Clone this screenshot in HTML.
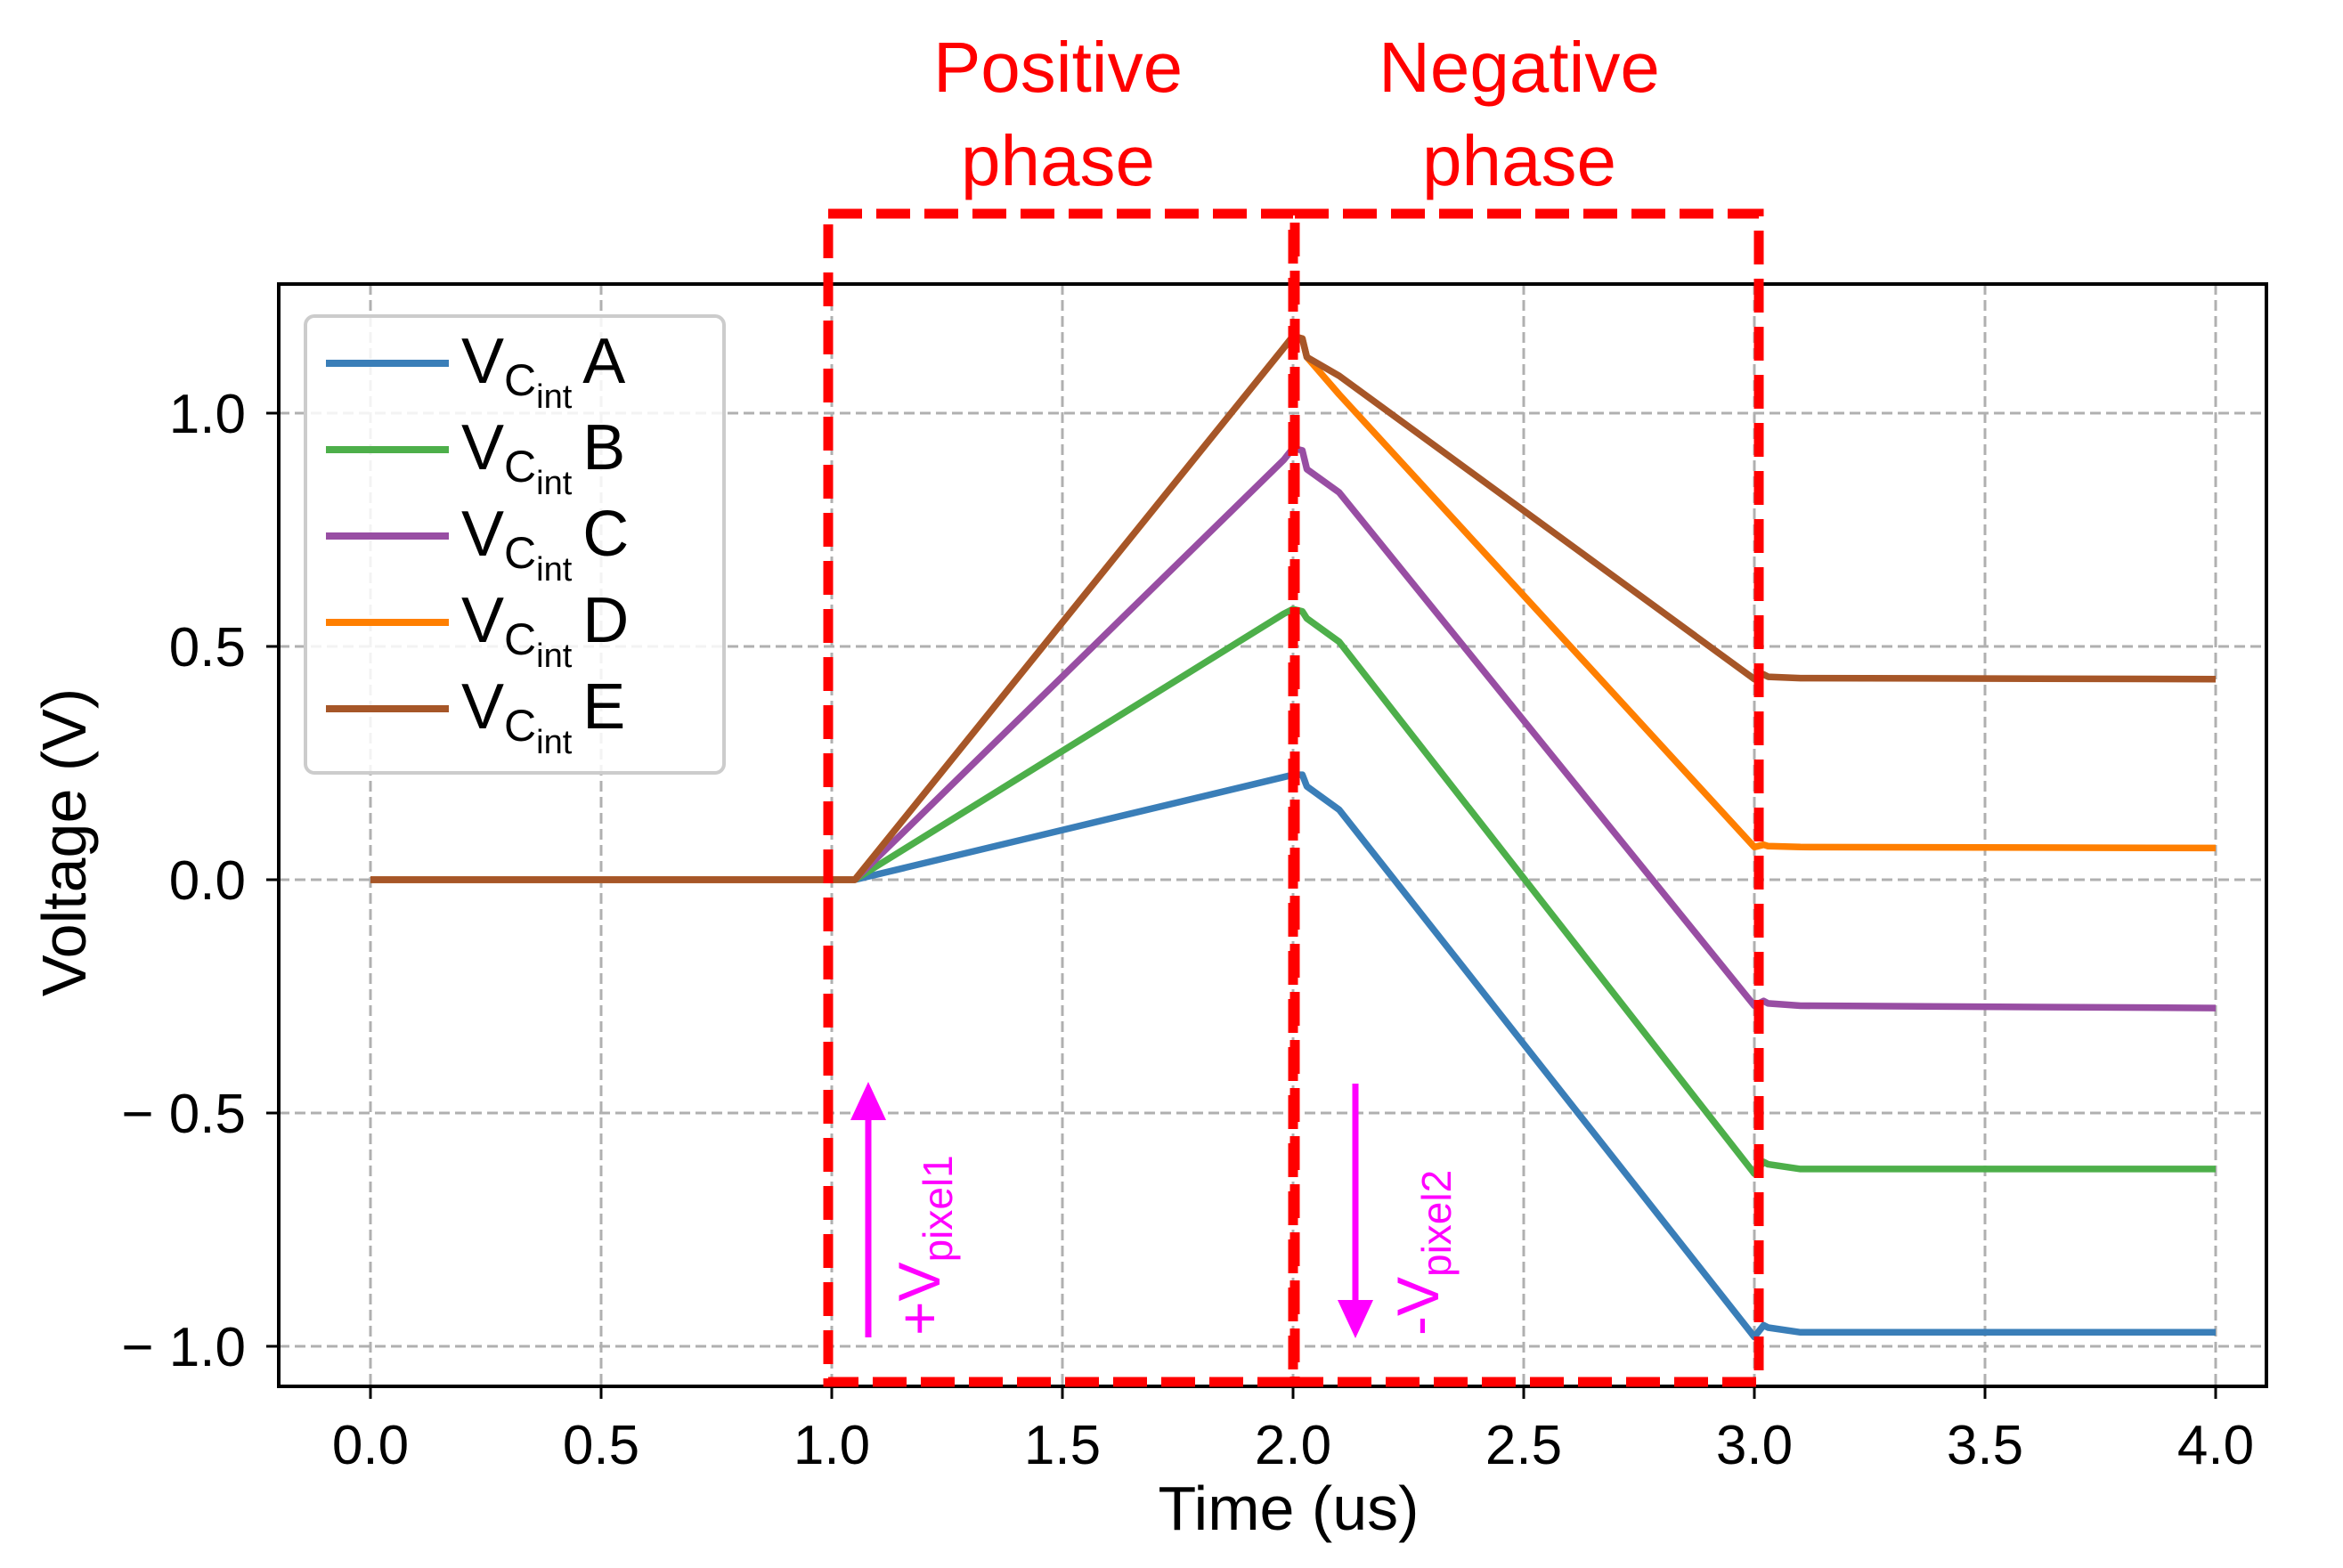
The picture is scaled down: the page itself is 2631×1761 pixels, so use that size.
<!DOCTYPE html>
<html><head><meta charset="utf-8"><style>
html,body{margin:0;padding:0;background:#fff;}
svg{display:block;font-family:"Liberation Sans",Arial,sans-serif;}
</style></head><body>
<svg id="chart" width="2631" height="1761" viewBox="0 0 2631 1761" xmlns="http://www.w3.org/2000/svg">
<rect x="0" y="0" width="2631" height="1761" fill="#fff"/>
<g id="grid"></g>
<g id="series"></g>
<g id="axes"></g>
<g id="annot">
  <text x="1188" y="103" font-size="80" fill="#ff0000" text-anchor="middle">Positive</text>
  <text x="1188" y="208" font-size="80" fill="#ff0000" text-anchor="middle">phase</text>
  <text x="1706" y="103" font-size="80" fill="#ff0000" text-anchor="middle">Negative</text>
  <text x="1706" y="208" font-size="80" fill="#ff0000" text-anchor="middle">phase</text>
  <rect x="930" y="240" width="522" height="1312" fill="none" stroke="#ff0000" stroke-width="11" stroke-dasharray="38 16"/>
  <rect x="1454" y="240" width="521" height="1312" fill="none" stroke="#ff0000" stroke-width="11" stroke-dasharray="38 16"/>
  <line x1="975" y1="1502" x2="975" y2="1250" stroke="#ff00ff" stroke-width="7"/>
  <polygon points="955,1258 995,1258 975,1215" fill="#ff00ff"/>
  <text transform="translate(1055,1500) rotate(-90)" font-size="66" fill="#ff00ff">+V<tspan font-size="46" dy="14">pixel1</tspan></text>
  <line x1="1522" y1="1217" x2="1522" y2="1465" stroke="#ff00ff" stroke-width="7"/>
  <polygon points="1502,1460 1542,1460 1522,1503" fill="#ff00ff"/>
  <text transform="translate(1615,1500) rotate(-90)" font-size="66" fill="#ff00ff">-V<tspan font-size="46" dy="14">pixel2</tspan></text>
</g>
<g id="legend"></g>
</svg>
<script>
const categories = [0, 0.8, 1.0, 1.05, 1.98, 2.0, 2.02, 2.03, 2.1, 3.0, 3.02, 3.03, 3.1, 4.0];
const seriesNames = ["A","B","C","D","E"];
const seriesA = [0,0,0,0,0.22,0.225,0.225,0.20,0.15,-0.98,-0.955,-0.96,-0.97,-0.97];
const seriesB = [0,0,0,0,0.57,0.58,0.575,0.56,0.51,-0.63,-0.605,-0.61,-0.62,-0.62];
const seriesC = [0,0,0,0,0.90,0.925,0.92,0.88,0.83,-0.27,-0.26,-0.265,-0.27,-0.275];
const seriesD = [0,0,0,0,1.14,1.165,1.16,1.12,1.04,0.07,0.075,0.072,0.07,0.068];
const seriesE = [0,0,0,0,1.14,1.165,1.16,1.12,1.08,0.43,0.44,0.435,0.432,0.43];
const colors = ["#3a7eb8","#4daf4a","#984ea3","#ff7f00","#a65628"];
const xTicks = [0,0.5,1.0,1.5,2.0,2.5,3.0,3.5,4.0];
const xTickLabels = ["0.0","0.5","1.0","1.5","2.0","2.5","3.0","3.5","4.0"];
const yTicks = [1.0,0.5,0,-0.5,-1.0];
const yTickLabels = ["1.0","0.5","0.0","\u2212 0.5","\u2212 1.0"];

const NS="http://www.w3.org/2000/svg";
const X0=313,X1=2545,Y0=319,Y1=1557;
function sx(v){return 416+v*518;}
function sy(v){return 988-v*524;}
function mk(tag,attrs,parent){const e=document.createElementNS(NS,tag);for(const k in attrs)e.setAttribute(k,attrs[k]);parent.appendChild(e);return e;}

const grid=document.getElementById('grid');
xTicks.forEach(function(t){
  const l=mk('line',{x1:sx(t),x2:sx(t),y1:Y0,y2:Y1,stroke:'#b0b0b0','stroke-width':3,'stroke-dasharray':'12 6'},grid);
  
  
});
yTicks.forEach(function(t){
  const l=mk('line',{x1:X0,x2:X1,y1:sy(t),y2:sy(t),stroke:'#b0b0b0','stroke-width':3,'stroke-dasharray':'12 6'},grid);
  
  
});

const series=document.getElementById('series');
const allSeries=[seriesA,seriesB,seriesC,seriesD,seriesE];
allSeries.forEach(function(vals,i){
  const pts=categories.map(function(c,j){return sx(c).toFixed(1)+','+sy(vals[j]).toFixed(1);}).join(' ');
  const p=mk('polyline',{points:pts,fill:'none',stroke:colors[i],'stroke-width':7.5,'stroke-linejoin':'round'},series);
  
  
});

const axes=document.getElementById('axes');
const fr=mk('rect',{x:X0,y:Y0,width:X1-X0,height:Y1-Y0,fill:'none',stroke:'#000','stroke-width':4},axes);


xTicks.forEach(function(t,i){
  mk('line',{x1:sx(t),x2:sx(t),y1:Y1,y2:Y1+14,stroke:'#000','stroke-width':3},axes);
  const tx=mk('text',{x:sx(t),y:1644,'font-size':62,'text-anchor':'middle',fill:'#000'},axes);
  tx.textContent=xTickLabels[i];
  
  
});
yTicks.forEach(function(t,i){
  mk('line',{x1:X0-14,x2:X0,y1:sy(t),y2:sy(t),stroke:'#000','stroke-width':3},axes);
  const tx=mk('text',{x:276,y:sy(t)+22,'font-size':62,'text-anchor':'end',fill:'#000'},axes);
  tx.textContent=yTickLabels[i];
  
  
});
const xl=mk('text',{x:1447,y:1718,'font-size':70,'text-anchor':'middle',fill:'#000'},axes);
xl.textContent='Time (us)';


const yl=mk('text',{x:0,y:0,'font-size':70,'text-anchor':'middle',fill:'#000',transform:'translate(96,946) rotate(-90)'},axes);
yl.textContent='Voltage (V)';



const lg=document.getElementById('legend');
const lb=mk('rect',{x:343,y:355,width:470,height:513,rx:10,fill:'#fff','fill-opacity':0.85,stroke:'#cccccc','stroke-width':4},lg);


seriesNames.forEach(function(n,i){
  const y=408+i*97;
  const ln=mk('line',{x1:366,x2:504,y1:y,y2:y,stroke:colors[i],'stroke-width':8},lg);
  
  
  const t=mk('text',{x:518,y:y+22,'font-size':72,fill:'#000'},lg);
  
  
  const a=mk('tspan',{},t);a.textContent='V';
  const b=mk('tspan',{'font-size':50,dy:14},t);b.textContent='C';
  const c=mk('tspan',{'font-size':38,dy:14},t);c.textContent='int';
  const d=mk('tspan',{dy:-28,dx:12},t);d.textContent=n;
});
</script>
</body></html>
